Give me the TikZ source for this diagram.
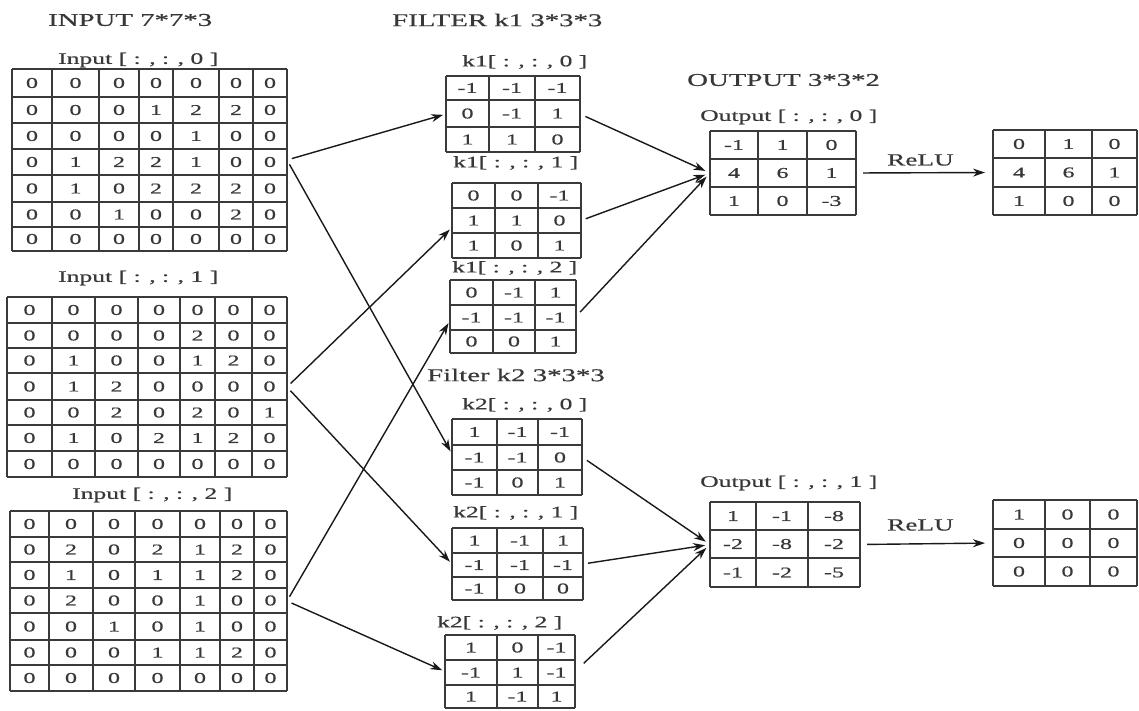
\documentclass[tikz,border=0pt]{standalone}
\usepackage{fontspec}
\setmainfont{Liberation Serif}[FakeStretch=1.6, FakeBold=0.6]
\usetikzlibrary{arrows.meta}
\definecolor{txt}{HTML}{383838}
\definecolor{gl}{HTML}{3A3A3A}
\tikzset{
  gridline/.style={draw=gl, line width=1.4pt},
  cellnum/.style={inner sep=0pt, text=txt, font=\fontsize{15}{17}\selectfont},
  lbl/.style={inner sep=0pt, anchor=west, text=txt, font=\fontsize{16}{18}\selectfont},
  ttl/.style={inner sep=0pt, anchor=west, text=txt, font=\fontsize{18}{20}\selectfont},
  conn/.style={draw=black!90, line width=1.4pt, -{Stealth[length=12pt,width=8pt]}, shorten <=5pt, shorten >=3pt},
}
\newcommand\mgrid[5]{%
  \pgfmathsetmacro\gxL{{#3}[0]}%
  \pgfmathsetmacro\gxR{{#3}[#2]}%
  \pgfmathsetmacro\gyT{{#4}[0]}%
  \pgfmathsetmacro\gyB{{#4}[#2]}%
  \pgfmathsetmacro\gw{\gxR-\gxL}%
  \pgfmathsetmacro\gh{\gyB-\gyT}%
  \node[inner sep=0pt, outer sep=0pt, minimum width=\gw pt, minimum height=\gh pt, anchor=north west] (#1) at (\gxL,\gyT) {};
  \foreach \gx in {#3} {\draw[gridline] (\gx,\gyT) -- (\gx,\gyB);}
  \foreach \gy in {#4} {\draw[gridline] (\gxL,\gy) -- (\gxR,\gy);}
  \foreach \grow [count=\gr from 0] in {#5} {
    \foreach \gv [count=\gc from 0] in \grow {
      \pgfmathtruncatemacro\gcn{\gc+1}
      \pgfmathtruncatemacro\grn{\gr+1}
      \pgfmathsetmacro\gxa{{#3}[\gc]}
      \pgfmathsetmacro\gxb{{#3}[\gcn]}
      \pgfmathsetmacro\gya{{#4}[\gr]}
      \pgfmathsetmacro\gyb{{#4}[\grn]}
      \pgfmathsetmacro\gcx{(\gxa+\gxb)/2}
      \pgfmathsetmacro\gcy{(\gya+\gyb)/2}
      \node[cellnum] (#1-\gr-\gc) at (\gcx,\gcy) {\gv};
    }
  }
}
\begin{document}
\begin{tikzpicture}[x=1pt,y=-1pt]
\fill[white] (0,0) rectangle (1139,711);
\useasboundingbox (0,0) rectangle (1139,711);

% titles
\node[ttl] (tin) at (48,20) {INPUT 7*7*3};
\node[ttl] (tk1) at (392,20) {FILTER k1 3*3*3};
\node[ttl] (tout) at (687,80) {OUTPUT 3*3*2};
\node[ttl] (tk2) at (427,375) {Filter k2 3*3*3};

% labels
\node[lbl] (lin0) at (58,60) {Input [ : , : , 0 ]};
\node[lbl] (lin1) at (58,278) {Input [ : , : , 1 ]};
\node[lbl] (lin2) at (72,495) {Input [ : , : , 2 ]};
\node[lbl] (lk10) at (462,62) {k1[ : , : , 0 ]};
\node[lbl] (lk11) at (453,163) {k1[ : , : , 1 ]};
\node[lbl] (lk12) at (452,268) {k1[ : , : , 2 ]};
\node[lbl] (lk20) at (462,405) {k2[ : , : , 0 ]};
\node[lbl] (lk21) at (453,513) {k2[ : , : , 1 ]};
\node[lbl] (lk22) at (437,623) {k2[ : , : , 2 ]};
\node[lbl] (lout0) at (700,117) {Output [ : , : , 0 ]};
\node[lbl] (lout1) at (700,483) {Output [ : , : , 1 ]};
\node[lbl, font=\fontsize{17}{19}\selectfont] (relul0) at (887,160) {ReLU};
\node[lbl, font=\fontsize{17}{19}\selectfont] (relul1) at (887,525) {ReLU};

% grids
\mgrid{in0}{7}{12,52,99,139,173,219,253,287}{69,97,123,149,175,202,227,251}
 {{0,0,0,0,0,0,0},{0,0,0,1,2,2,0},{0,0,0,0,1,0,0},{0,1,2,2,1,0,0},{0,1,0,2,2,2,0},{0,0,1,0,0,2,0},{0,0,0,0,0,0,0}}
\mgrid{in1}{7}{7,52,95,138,180,215,252,287}{297,323,348,373,400,425,451,477}
 {{0,0,0,0,0,0,0},{0,0,0,0,2,0,0},{0,1,0,0,1,2,0},{0,1,2,0,0,0,0},{0,0,2,0,2,0,1},{0,1,0,2,1,2,0},{0,0,0,0,0,0,0}}
\mgrid{in2}{7}{10,49,93,135,180,220,254,287}{511,537,562,588,613,640,665,691}
 {{0,0,0,0,0,0,0},{0,2,0,2,1,2,0},{0,1,0,1,1,2,0},{0,2,0,0,1,0,0},{0,0,1,0,1,0,0},{0,0,0,1,1,2,0},{0,0,0,0,0,0,0}}
\mgrid{k10}{3}{446,489,535,580}{76,100,127,152}{{-1,-1,-1},{0,-1,1},{1,1,0}}
\mgrid{k11}{3}{452,495,538,581}{183,208,233,258}{{0,0,-1},{1,1,0},{1,0,1}}
\mgrid{k12}{3}{450,493,535,576}{280,305,330,353}{{0,-1,1},{-1,-1,-1},{0,0,1}}
\mgrid{k20}{3}{452,497,538,582}{419,445,470,495}{{1,-1,-1},{-1,-1,0},{-1,0,1}}
\mgrid{k21}{3}{452,497,543,583}{528,553,577,600}{{1,-1,1},{-1,-1,-1},{-1,0,0}}
\mgrid{k22}{3}{445,497,538,575}{635,660,685,708}{{1,0,-1},{-1,1,-1},{1,-1,1}}
\mgrid{out0}{3}{710,758,807,856}{131,159,187,215}{{-1,1,0},{4,6,1},{1,0,-3}}
\mgrid{relu0}{3}{993,1045,1092,1137}{130,158,187,215}{{0,1,0},{4,6,1},{1,0,0}}
\mgrid{out1}{3}{710,756,808,860}{502,530,558,587}{{1,-1,-8},{-2,-8,-2},{-1,-2,-5}}
\mgrid{relu1}{3}{993,1045,1090,1137}{500,529,557,586}{{1,0,0},{0,0,0},{0,0,0}}

% connectors input -> filters
\draw[conn] (in0.east) -- (k10.west);
\draw[conn] (in0.east) -- ([yshift=3pt]k20.west);
\draw[conn] (in1.east) -- ([yshift=-7pt]k11.west);
\draw[conn] (in1.east) -- (k21.west);
\draw[conn] (in2.east) -- ([yshift=-4pt]k12.west);
\draw[conn] (in2.east) -- (k22.west);

% filters -> outputs
\draw[conn, shorten <=6pt, shorten >=5pt] (k10.east) -- (out0.west);
\draw[conn, shorten <=5pt, shorten >=5pt] (k11.east) -- (out0.west);
\draw[conn, shorten <=6pt, shorten >=5pt] (k12.east) -- (out0.west);
\draw[conn, shorten <=6pt, shorten >=5pt] (k20.east) -- (out1.west);
\draw[conn, shorten <=5pt, shorten >=5pt] (k21.east) -- (out1.west);
\draw[conn, shorten <=12pt, shorten >=5pt] (k22.east) -- (out1.west);

% ReLU
\draw[conn, shorten <=7pt, shorten >=8pt] (out0.east) -- (relu0.west);
\draw[conn, shorten <=7pt, shorten >=8pt] (out1.east) -- (relu1.west);
\end{tikzpicture}
\end{document}
